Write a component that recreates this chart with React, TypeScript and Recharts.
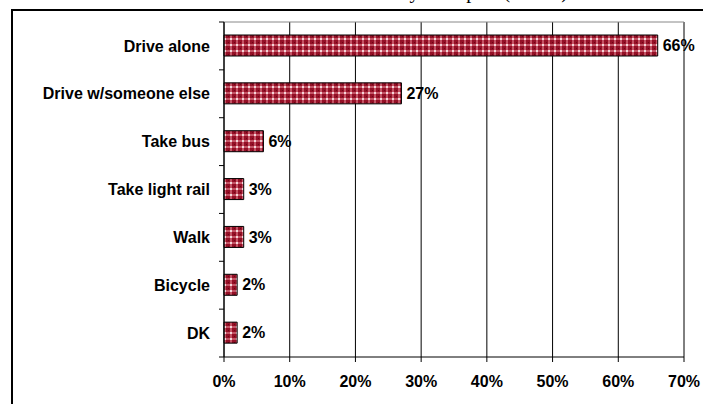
import React from "react"
import {
  BarChart,
  Bar,
  XAxis,
  YAxis,
  CartesianGrid,
  LabelList,
} from "recharts"

const modes = [
  "Drive alone",
  "Drive w/someone else",
  "Take bus",
  "Take light rail",
  "Walk",
  "Bicycle",
  "DK",
]
const shares = [66, 27, 6, 3, 3, 2, 2]
const percentTicks = [0, 10, 20, 30, 40, 50, 60, 70]

const WIDTH = 703
const HEIGHT = 404
const MARGIN = { top: 22, right: 19, bottom: 0, left: 0 }
const Y_AXIS_WIDTH = 224
const X_AXIS_HEIGHT = 47
const BAND = (HEIGHT - MARGIN.top - MARGIN.bottom - X_AXIS_HEIGHT) / modes.length
const FONT = "'Liberation Sans', Arial, sans-serif"

const data = modes.map((mode, i) => ({ mode, share: shares[i] }))

// category label plus a small outward tick at each band boundary
function ModeTick(props: any) {
  const { y, payload, index } = props
  const axisX = MARGIN.left + Y_AXIS_WIDTH
  return (
    <g>
      <text
        x={axisX - 14}
        y={y}
        dy="0.35em"
        textAnchor="end"
        fontFamily={FONT}
        fontWeight="bold"
        fontSize={16}
        fill="#000"
      >
        {payload.value}
      </text>
      <line x1={axisX - 5} x2={axisX} y1={y - BAND / 2} y2={y - BAND / 2} stroke="#000" />
      {index === modes.length - 1 && (
        <line x1={axisX - 5} x2={axisX} y1={y + BAND / 2} y2={y + BAND / 2} stroke="#000" />
      )}
    </g>
  )
}

export default function App() {
  return (
    <div
      style={{
        position: "relative",
        width: WIDTH,
        height: HEIGHT,
        overflow: "hidden",
        background: "#fff",
      }}
    >
      <style>{"body{margin:0}"}</style>

      {/* title sits mostly above the frame */}
      <svg
        width={WIDTH}
        height={40}
        style={{ position: "absolute", left: 0, top: -30 }}
      >
        <text
          x={568}
          y={28}
          textAnchor="end"
          fontFamily="'Liberation Serif', 'Times New Roman', serif"
          fontSize={20}
          fill="#000"
        >
          Usual way to airport (n=400)
        </text>
      </svg>

      {/* outer chart frame */}
      <div
        style={{
          position: "absolute",
          left: 11,
          top: 9,
          width: 800,
          height: 500,
          border: "2px solid #000",
          boxSizing: "border-box",
        }}
      />

      <div style={{ position: "absolute", left: 0, top: 0 }}>
        <BarChart
          width={WIDTH}
          height={HEIGHT}
          layout="vertical"
          data={data}
          margin={MARGIN}
          barSize={21}
        >
          <defs>
            <pattern id="weave" width="6" height="6" patternUnits="userSpaceOnUse">
              <rect width="6" height="6" fill="#950f26" />
              <rect x="2" y="0" width="2" height="6" fill="#c45566" />
              <rect x="0" y="2" width="6" height="2" fill="#c45566" />
              <rect x="2" y="2" width="2" height="2" fill="#f4d6da" />
              <rect x="0" y="0" width="1" height="1" fill="#6e0616" />
            </pattern>
          </defs>
          <CartesianGrid horizontal={false} stroke="#000" />
          <CartesianGrid
            vertical={false}
            stroke="#888"
            horizontalCoordinatesGenerator={({ offset }: any) => [offset.top]}
          />
          <XAxis
            type="number"
            domain={[0, 70]}
            ticks={percentTicks}
            tickFormatter={(v: number) => `${v}%`}
            height={X_AXIS_HEIGHT}
            tickSize={5}
            tickMargin={14}
            axisLine={{ stroke: "#000" }}
            tickLine={{ stroke: "#000" }}
            tick={{ fontFamily: FONT, fontWeight: "bold", fontSize: 16, fill: "#000" }}
          />
          <YAxis
            type="category"
            dataKey="mode"
            width={Y_AXIS_WIDTH}
            axisLine={{ stroke: "#000" }}
            tickLine={false}
            tick={(p: any) => <ModeTick {...p} />}
            interval={0}
          />
          <Bar
            dataKey="share"
            fill="url(#weave)"
            stroke="#000"
            strokeWidth={1}
            isAnimationActive={false}
          >
            <LabelList
              dataKey="share"
              position="right"
              offset={5}
              formatter={(v: any) => `${v}%`}
              style={{ fontFamily: FONT, fontWeight: "bold", fontSize: 16, fill: "#000" }}
            />
          </Bar>
        </BarChart>
      </div>
    </div>
  )
}
